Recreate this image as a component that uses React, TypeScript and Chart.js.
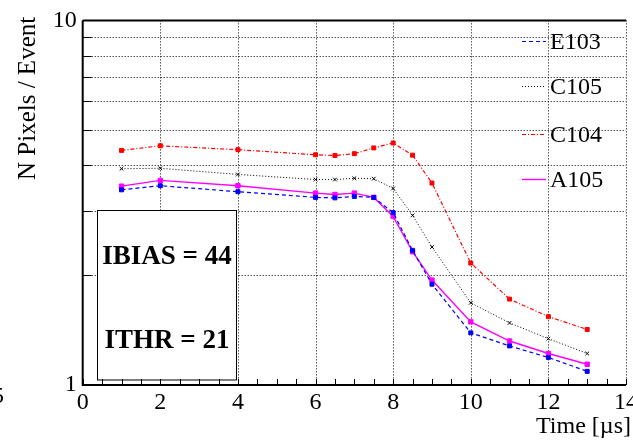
import React, { useEffect, useRef } from 'react';
import { Chart, registerables } from 'chart.js';

Chart.register(...registerables);

// ---- data ----
const times = [1, 2, 4, 6, 6.5, 7, 7.5, 8, 8.5, 9, 10, 11, 12, 13];
const e103 = [3.43, 3.52, 3.39, 3.27, 3.26, 3.29, 3.27, 2.97, 2.34, 1.89, 1.39, 1.28, 1.19, 1.09];
const c105 = [3.92, 3.93, 3.78, 3.66, 3.66, 3.69, 3.68, 3.46, 2.92, 2.39, 1.68, 1.48, 1.34, 1.22];
const c104 = [4.40, 4.53, 4.42, 4.28, 4.26, 4.31, 4.47, 4.61, 4.27, 3.58, 2.16, 1.72, 1.54, 1.42];
const a105 = [3.51, 3.64, 3.52, 3.36, 3.33, 3.36, 3.27, 2.90, 2.32, 1.94, 1.49, 1.32, 1.22, 1.14];
const seriesNames = ['E103', 'C105', 'C104', 'A105'];
const xTickValues = [0, 2, 4, 6, 8, 10, 12, 14];
const yTickValues = [1, 2, 3, 4, 5, 6, 7, 8, 9, 10];
const yLabelValues = [1, 10];
const boxLines = ['IBIAS = 44', 'ITHR = 21'];
const xTitle = 'Time [\u00b5s]';
const yTitle = 'N Pixels / Event';

// ---- styles ----
const SERIF = "'Liberation Serif', 'Times New Roman', serif";
const seriesStyles = [
  { color: '#0000ff', dash: [4, 3], width: 1.2, point: 'rect', radius: 2.8 },
  { color: '#000000', dash: [1, 2], width: 1, point: 'crossRot', radius: 2.6 },
  { color: '#ff0000', dash: [4, 2, 1, 2], width: 1.2, point: 'rect', radius: 2.8 },
  { color: '#ff00ff', dash: [], width: 1.4, point: 'rect', radius: 3.1 },
];
const seriesValues = [e103, c105, c104, a105];
const legendY = [49, 94, 142, 187];

const decor = {
  id: 'decor',
  beforeDatasetsDraw(chart: any) {
    const { ctx, chartArea, scales } = chart;
    const { left, right, top, bottom } = chartArea;
    const x = scales.x;
    const y = scales.y;
    ctx.save();
    // dotted grid
    ctx.strokeStyle = '#000';
    ctx.lineWidth = 1;
    ctx.setLineDash([1, 2]);
    ctx.beginPath();
    for (const v of xTickValues) {
      if (v === 0) continue;
      const px = Math.round(x.getPixelForValue(v)) + 0.5;
      ctx.moveTo(px, top);
      ctx.lineTo(px, bottom);
    }
    for (const v of yTickValues) {
      if (v === 1 || v === 10) continue;
      const py = Math.round(y.getPixelForValue(v)) + 0.5;
      ctx.moveTo(left, py);
      ctx.lineTo(right, py);
    }
    ctx.stroke();
    ctx.setLineDash([]);
    // text box
    ctx.fillStyle = '#ffffff';
    ctx.fillRect(97.5, 210.5, 139, 169.5);
    ctx.strokeStyle = '#000';
    ctx.lineWidth = 1;
    ctx.strokeRect(97.5, 210.5, 139, 169.5);
    ctx.fillStyle = '#000';
    ctx.font = `bold 27px ${SERIF}`;
    ctx.textAlign = 'center';
    ctx.textBaseline = 'alphabetic';
    ctx.fillText(boxLines[0], 167, 264);
    ctx.fillText(boxLines[1], 167, 348);
    ctx.restore();
  },
  afterDatasetsDraw(chart: any) {
    const { ctx, chartArea, scales } = chart;
    const { left, right, top, bottom } = chartArea;
    const x = scales.x;
    const y = scales.y;
    ctx.save();
    ctx.strokeStyle = '#000';
    ctx.setLineDash([]);
    // frame
    ctx.lineWidth = 2;
    ctx.beginPath();
    ctx.moveTo(left, top);
    ctx.lineTo(right, top);
    ctx.moveTo(left, top);
    ctx.lineTo(left, bottom);
    ctx.lineTo(right, bottom);
    ctx.stroke();
    // x ticks every 0.5
    ctx.lineWidth = 1;
    ctx.beginPath();
    for (let i = 0; i <= 28; i++) {
      const px = Math.round(x.getPixelForValue(i * 0.5)) + 0.5;
      ctx.moveTo(px, bottom);
      ctx.lineTo(px, bottom - 6);
    }
    // y ticks
    for (const v of yTickValues) {
      const py = Math.round(y.getPixelForValue(v)) + 0.5;
      ctx.moveTo(left, py);
      ctx.lineTo(left + 9, py);
    }
    ctx.stroke();

    // legend
    ctx.font = `24px ${SERIF}`;
    ctx.textAlign = 'left';
    ctx.textBaseline = 'alphabetic';
    seriesNames.forEach((name, i) => {
      const st = seriesStyles[i];
      const ly = legendY[i] - 8;
      ctx.strokeStyle = st.color;
      ctx.lineWidth = st.width;
      ctx.setLineDash(st.dash);
      ctx.beginPath();
      ctx.moveTo(522, ly + 0.5);
      ctx.lineTo(546, ly + 0.5);
      ctx.stroke();
      ctx.setLineDash([]);
      ctx.fillStyle = '#000';
      ctx.fillText(name, 550, legendY[i]);
    });

    // titles
    ctx.fillStyle = '#000';
    ctx.font = `24px ${SERIF}`;
    ctx.textAlign = 'left';
    ctx.fillText(xTitle, 536, 433);
    ctx.save();
    ctx.translate(35, 180);
    ctx.rotate(-Math.PI / 2);
    ctx.font = `25px ${SERIF}`;
    ctx.fillText(yTitle, 0, 0);
    ctx.restore();
    // fragment at left edge
    ctx.font = `24px ${SERIF}`;
    ctx.fillText('5', -8, 403);
    ctx.restore();
  },
};

export default function App() {
  const ref = useRef<HTMLCanvasElement | null>(null);
  useEffect(() => {
    if (!ref.current) return;
    const datasets = seriesNames.map((name, i) => {
      const st = seriesStyles[i];
      return {
        label: name,
        data: times.map((t, j) => ({ x: t, y: seriesValues[i][j] })),
        borderColor: st.color,
        backgroundColor: st.color,
        borderWidth: st.width,
        borderDash: st.dash,
        pointStyle: st.point,
        pointRadius: st.radius,
        pointBorderWidth: 1,
        pointBackgroundColor: st.color,
        pointBorderColor: st.color,
        tension: 0,
        fill: false,
      };
    });
    const chart = new Chart(ref.current, {
      type: 'line',
      data: { datasets },
      plugins: [decor],
      options: {
        animation: false,
        responsive: false,
        devicePixelRatio: 1,
        layout: { padding: { left: 0, top: 16, right: 34, bottom: 0 } },
        plugins: { legend: { display: false }, tooltip: { enabled: false } },
        scales: {
          x: {
            type: 'linear',
            min: 0,
            max: 14,
            afterBuildTicks: (s: any) => {
              s.ticks = xTickValues.map((v) => ({ value: v }));
            },
            afterFit: (s: any) => {
              s.height = 55;
            },
            ticks: {
              autoSkip: false,
              maxRotation: 0,
              padding: 3,
              color: '#000',
              font: { family: SERIF, size: 24 },
              callback: (v: any) => String(v),
            },
            grid: { display: false, drawTicks: false },
            border: { display: false },
          },
          y: {
            type: 'logarithmic',
            min: 1,
            max: 10,
            afterBuildTicks: (s: any) => {
              s.ticks = yTickValues.map((v) => ({ value: v }));
            },
            afterFit: (s: any) => {
              s.width = 82.7;
            },
            ticks: {
              autoSkip: false,
              padding: 6,
              color: '#000',
              font: { family: SERIF, size: 24 },
              callback: (v: any) => (yLabelValues.includes(Number(v)) ? String(v) : ''),
            },
            grid: { display: false, drawTicks: false },
            border: { display: false },
          },
        },
      },
    } as any);
    return () => chart.destroy();
  }, []);
  return (
    <div
      style={{
        position: 'fixed',
        left: 0,
        top: 0,
        width: 633,
        height: 440,
        overflow: 'hidden',
        background: '#fff',
      }}
    >
      <canvas ref={ref} width={660} height={440} style={{ display: 'block' }} />
    </div>
  );
}
